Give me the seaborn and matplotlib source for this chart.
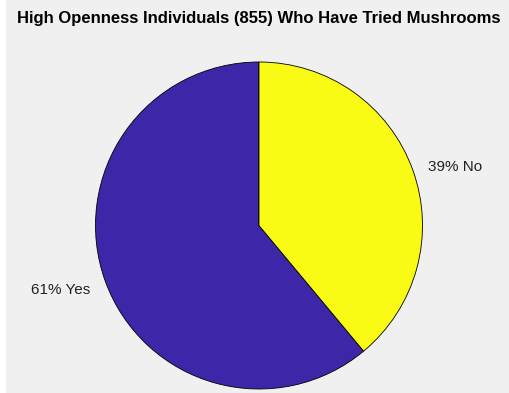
import matplotlib
matplotlib.use("Agg")
import matplotlib.pyplot as plt
from matplotlib.patches import Rectangle
from matplotlib.transforms import offset_copy
import seaborn as sns

# Survey outcome among the 855 high-openness respondents
answers = ["Yes", "No"]
counts = [522, 333]
slice_colors = ["#3E26A8", "#F9FB15"]

sns.set_theme(style="white")
plt.rcParams["font.family"] = ["Liberation Sans", "DejaVu Sans"]

W, H = 510, 393
fig = plt.figure(figsize=(W / 100, H / 100), dpi=100, facecolor="#F0F0F0")
fig.patches.append(Rectangle((0, 0), 6 / W, 1, transform=fig.transFigure,
                             facecolor="white", edgecolor="none", zorder=-1))

cx, cy, r = 259, 225.5, 163.5
ax = fig.add_axes([(cx - r) / W, (H - cy - r) / H, 2 * r / W, 2 * r / H])
ax.set_facecolor("none")

total = sum(counts)
labels = [f"{round(100 * c / total)}% {a}" for a, c in zip(answers, counts)]
palette = sns.color_palette(slice_colors)

wedges, texts = ax.pie(counts, labels=labels, colors=palette, startangle=90,
                       counterclock=True, radius=1, labeldistance=1.1,
                       wedgeprops=dict(edgecolor="black", linewidth=0.6),
                       textprops=dict(fontsize=11, color="#222222"))
# nudge the slice labels slightly below their anchor points
for t in texts:
    t.set_transform(offset_copy(ax.transData, fig=fig, x=0, y=-3, units="dots"))
ax.set_xlim(-1, 1)
ax.set_ylim(-1, 1)
ax.set_aspect("auto")
ax.axis("off")

fig.text(cx / W, 1 - 18.5 / H, "High Openness Individuals (855) Who Have Tried Mushrooms",
         ha="center", va="center", fontsize=12, fontweight="bold", color="black")

fig.savefig("out.png", dpi=100, facecolor=fig.get_facecolor())
